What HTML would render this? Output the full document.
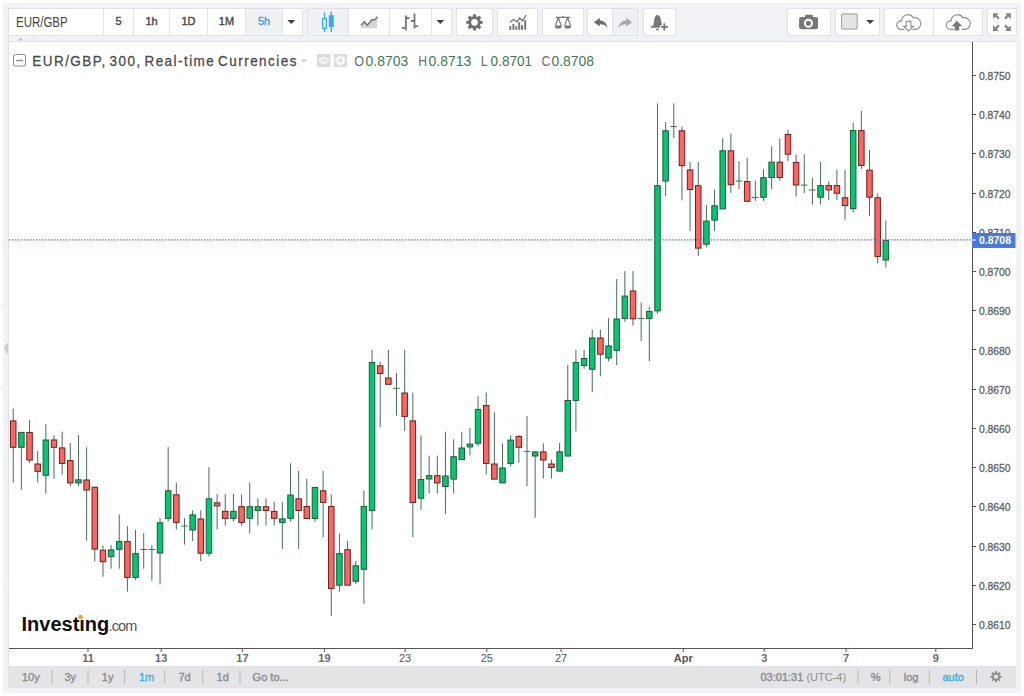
<!DOCTYPE html>
<html><head><meta charset="utf-8"><style>
*{margin:0;padding:0;box-sizing:border-box}
html,body{width:1024px;height:696px;overflow:hidden;background:#fff;font-family:"Liberation Sans",sans-serif}
#frame{position:absolute;left:3px;top:3px;width:1018px;height:690px;background:#f0f2f5}
.g{position:absolute;top:8px;height:28px;background:#fff;border:1px solid #e0e2e7}
.sep{position:absolute;top:9px;width:1px;height:26px;background:#e0e2e7}
.act{position:absolute;top:9px;height:26px;background:#f0f1f4}
.t{position:absolute;white-space:nowrap}
.iv{position:absolute;top:15px;font-size:11px;font-weight:normal;-webkit-text-stroke-width:0.4px;color:#4a4a4a;text-align:center;line-height:13px}
#chart{position:absolute;left:8px;top:41px;width:1008px;height:625px;background:#fff;border-left:1px solid #e0e2e7;border-top:1px solid #e0e2e7}
#strip{position:absolute;left:8px;top:36px;width:1008px;height:6px;background:#f0f2f5;border-bottom:1px solid #e0e2e7;border-left:1px solid #e0e2e7}
#tab{position:absolute;left:9px;top:35px;width:25px;height:1px;background:#e0e2e7}
#bot{position:absolute;left:8px;top:666px;width:1008px;height:21.5px;background:#e4e4e7}
.bt{position:absolute;top:671px;font-size:11px;font-weight:bold;color:#8c8c8c;line-height:13px}
.bs{position:absolute;top:670px;width:1px;height:14px;background:#b9bbc0}
</style></head><body>
<div id="frame"></div>

<!-- toolbar groups -->
<div class="g" style="left:8px;width:295px"></div>
<div class="act" style="left:246px;width:36px"></div>
<div class="sep" style="left:103px"></div>
<div class="sep" style="left:133px"></div>
<div class="sep" style="left:169px"></div>
<div class="sep" style="left:207px"></div>
<div class="sep" style="left:245px"></div>
<div class="sep" style="left:282px"></div>
<div class="t" style="left:15.5px;top:14px;font-size:14px;color:#454545;line-height:16px;transform:scaleX(0.82);transform-origin:0 0">EUR/GBP</div>
<div class="iv" style="left:104px;width:29px">5</div>
<div class="iv" style="left:134px;width:35px">1h</div>
<div class="iv" style="left:170px;width:37px">1D</div>
<div class="iv" style="left:208px;width:37px">1M</div>
<div class="iv" style="left:246px;width:36px;color:#3aa6dd">5h</div>

<div class="g" style="left:307px;width:145px"></div>
<div class="act" style="left:308px;width:40px"></div>
<div class="sep" style="left:348px"></div>
<div class="sep" style="left:389px"></div>
<div class="sep" style="left:431px"></div>

<div class="g" style="left:456px;width:37px"></div>
<div class="g" style="left:497px;width:41px"></div>
<div class="g" style="left:542px;width:42px"></div>
<div class="g" style="left:587px;width:51px"></div>
<div class="act" style="left:613px;width:24px"></div>
<div class="sep" style="left:612px"></div>
<div class="g" style="left:643px;width:33px"></div>

<div class="g" style="left:787px;width:44px"></div>
<div class="g" style="left:835px;width:45px"></div>
<div class="g" style="left:884px;width:99px"></div>
<div class="sep" style="left:933px"></div>
<div class="g" style="left:987px;width:30px"></div>

<div id="strip"></div><div id="tab"></div>
<div style="position:absolute;left:33px;top:36px;width:1px;height:5px;background:#e0e2e7"></div>
<div id="chart"></div>
<div id="bot"></div>

<svg width="1024" height="696" style="position:absolute;left:0;top:0" font-family="Liberation Sans, sans-serif">
<!-- toolbar icons -->
<g fill="#404040"><path d="M287.3 20h8l-4 4z"/><path d="M436.4 20.1h8l-4 4z"/><path d="M866.1 20.1h8l-4 4z"/></g>
<path d="M18 40.5l2.6-3 2.6 3z" fill="#c2c4c8"/>
<!-- candle icon -->
<g stroke="#3aaee0" fill="none" stroke-width="1.4">
<path d="M324.5 12.5V18.6M324.5 28.4V32"/><rect x="322.7" y="18.6" width="3.6" height="9.8"/>
<path d="M331.3 11.8V32"/>
</g>
<rect x="328.8" y="15.2" width="5" height="11.7" fill="#3aaee0"/>
<!-- area icon -->
<path d="M361 25.3L364.3 21.7L367.3 25.3L371.9 19.7L374.9 19.7L377.2 17.1V28.3H361Z" fill="#d6d6d6"/>
<path d="M361 25.3L364.3 21.7L367.3 25.3L371.9 19.7L374.9 19.7L377.5 16.8" stroke="#777" stroke-width="1.6" fill="none"/>
<!-- bars icon -->
<g stroke="#777" stroke-width="1.8" fill="none">
<path d="M405.9 15.4V30.5M401.8 27.8H405.9M405.9 18H409.4"/>
<path d="M414.5 13.4V28.5M411 21H414.5M414.5 26.1H418"/>
</g>
<!-- gear -->
<g transform="translate(474.5 22.4)" fill="#707070">
<path id="gearp" d="M-1.71 -5.96L-1.44 -8.17L1.44 -8.17L1.71 -5.96L3.01 -5.42L4.76 -6.80L6.80 -4.76L5.42 -3.01L5.96 -1.71L8.17 -1.44L8.17 1.44L5.96 1.71L5.42 3.01L6.80 4.76L4.76 6.80L3.01 5.42L1.71 5.96L1.44 8.17L-1.44 8.17L-1.71 5.96L-3.01 5.42L-4.76 6.80L-6.80 4.76L-5.42 3.01L-5.96 1.71L-8.17 1.44L-8.17 -1.44L-5.96 -1.71L-5.42 -3.01L-6.80 -4.76L-4.76 -6.80L-3.01 -5.42ZM0 -3.3A3.3 3.3 0 1 0 0 3.3A3.3 3.3 0 1 0 0 -3.3Z" fill-rule="evenodd"/>
</g>
<!-- indicators -->
<g fill="#777"><rect x="509.3" y="26" width="2" height="3.8"/><rect x="512.4" y="24" width="2" height="5.8"/><rect x="515.3" y="26.2" width="2" height="3.6"/><rect x="518.2" y="22.1" width="2" height="7.7"/><rect x="521" y="25.2" width="2" height="4.6"/><rect x="524.2" y="20.1" width="2" height="9.7"/></g>
<path d="M510 22L513.5 19.5L516.8 21.8L519.6 18L522.6 20.8L526 15" stroke="#777" stroke-width="1.4" fill="none"/>
<!-- scales -->
<g stroke="#777" stroke-width="1.2" fill="none">
<path d="M555.8 17.3H570.3M563 16V17.3"/>
<path d="M558.3 17.5L555.4 25.6M558.3 17.5L561.2 25.6M567.6 17.5L564.7 25.6M567.6 17.5L570.5 25.6"/>
</g>
<g fill="#777"><path d="M554.8 25.4h7a3.5 3.2 0 0 1-7 0z"/><path d="M564.2 25.4h7a3.5 3.2 0 0 1-7 0z"/></g>
<!-- undo redo -->
<path d="M594 22.2L599.8 17.8V20.4C604 20.4 606.6 23 607.6 28C605.6 25.2 603.4 24.2 599.8 24.2V26.5Z" fill="#6d6d6d"/>
<path d="M632 22.2L626.2 17.8V20.4C622 20.4 619.4 23 618.4 28C620.4 25.2 622.6 24.2 626.2 24.2V26.5Z" fill="#a8a8a8"/>
<!-- bell -->
<g fill="#777">
<path d="M657.5 15C655.8 15 654.6 17 654.1 20.2L653.4 25.8H651.1V27.8H659.9V25.9L661.9 24.4C661.4 22 660.9 19.6 660.6 18.5C660.1 16.4 659 15 657.5 15Z"/>
<path d="M655.7 28.7h3.6a1.8 1.8 0 0 1-3.6 0z"/>
<rect x="663.4" y="23.3" width="1.8" height="7.2"/><rect x="661" y="26" width="7" height="1.8"/>
</g>
<!-- camera -->
<g fill="#777">
<rect x="799.1" y="17" width="18.9" height="12.3" rx="2"/><rect x="805" y="14.8" width="7.8" height="3.5" rx="1.2"/>
</g>
<circle cx="808.4" cy="23.3" r="3.55" fill="none" stroke="#fff" stroke-width="2"/>
<!-- swatch -->
<rect x="841.6" y="13.9" width="15.6" height="15.2" rx="1" fill="#e4e4e4" stroke="#9a9a9a" stroke-width="1"/>
<!-- clouds -->
<g fill="none" stroke="#8f8f8f" stroke-width="1.15">
<path d="M904.3 29.3H900.3A4.2 4.2 0 0 1 901.6 21A6.3 6.3 0 0 1 913.3 17.8A5.6 5.6 0 0 1 916.4 29.3H912.6"/>
<path d="M906.2 21.4V26.4H903.6L908.5 31L913.4 26.4H910.9V21.4Z"/>
<path d="M953.8 29.3H949.8A4.2 4.2 0 0 1 951.1 21A6.3 6.3 0 0 1 962.8 17.8A5.6 5.6 0 0 1 965.9 29.3H962.1"/>
</g>
<path d="M956.9 20.8L951.6 26.2H954.6V30.6H959.2V26.2H962.2Z" fill="#7a7a7a"/>
<!-- fullscreen -->
<g fill="#858585">
<path d="M993 13.3H998.7L996.9 15.1L999.7 17.9L998.1 19.6L995.2 16.8L993 19Z"/>
<path d="M1010.8 13.3H1005.1L1006.9 15.1L1004.1 17.9L1005.7 19.6L1008.6 16.8L1010.8 19Z"/>
<path d="M993 30.9H998.7L996.9 29.1L999.7 26.3L998.1 24.6L995.2 27.4L993 25.2Z"/>
<path d="M1010.8 30.9H1005.1L1006.9 29.1L1004.1 26.3L1005.7 24.6L1008.6 27.4L1010.8 25.2Z"/>
</g>

<path d="M8 342Q5.5 345 4.2 348.5Q5.5 352 8 355Z" fill="#cdcdcf"/>
<path d="M0 305.5H3M0 388.5H3M0 582H3" stroke="#dcebf2" stroke-width="1"/>
<!-- legend -->
<rect x="13.5" y="54.5" width="12" height="11.5" rx="2" fill="none" stroke="#8a8a8a" stroke-width="1"/>
<path d="M16 60.5H23" stroke="#8a8a8a" stroke-width="1.3"/>
<text transform="translate(32.3 66.3) scale(0.9 1)" font-size="15" fill="#4a4a4a" stroke="#4a4a4a" stroke-width="0.3" letter-spacing="1.62" word-spacing="-2.6">EUR/GBP, 300, Real-time Currencies</text>
<path d="M300.7 59.6h6.6l-3.3 2.6z" fill="#c8c8c8"/>
<rect x="317" y="54" width="13.5" height="13" fill="#dcdcdc"/>
<rect x="333.8" y="54" width="13.2" height="13" fill="#dcdcdc"/>
<path d="M319.3 60.6Q323.7 54.6 328.2 60.6Q323.7 66.6 319.3 60.6Z" fill="none" stroke="#fff" stroke-width="1.4"/><circle cx="323.7" cy="60.6" r="1.2" fill="#fff"/>
<g transform="translate(340.4 60.5) scale(0.62)" fill="#fff"><use href="#gearp"/></g>
<g font-size="14.5" fill="#3f7a55">
<text x="354.3" y="66.3" fill="#6e6e6e" textLength="9.8" lengthAdjust="spacingAndGlyphs">O</text><text x="365.6" y="66.3" textLength="42.6" lengthAdjust="spacingAndGlyphs">0.8703</text>
<text x="418.2" y="66.3" fill="#6e6e6e" textLength="8.8" lengthAdjust="spacingAndGlyphs">H</text><text x="428.6" y="66.3" textLength="42.6" lengthAdjust="spacingAndGlyphs">0.8713</text>
<text x="480.8" y="66.3" fill="#6e6e6e" textLength="7" lengthAdjust="spacingAndGlyphs">L</text><text x="490.6" y="66.3" textLength="41.5" lengthAdjust="spacingAndGlyphs">0.8701</text>
<text x="541.5" y="66.3" fill="#6e6e6e" textLength="8.8" lengthAdjust="spacingAndGlyphs">C</text><text x="551.4" y="66.3" textLength="42.6" lengthAdjust="spacingAndGlyphs">0.8708</text>
</g>

<!-- axes -->
<path d="M9 648.5H972.5M972.5 42V649" stroke="#555" stroke-width="1" fill="none"/>
<g stroke="#555" stroke-width="1">
<path d="M972 75.5H976"/>
<path d="M972 114.5H976"/>
<path d="M972 153.5H976"/>
<path d="M972 193.5H976"/>
<path d="M972 232.5H976"/>
<path d="M972 271.5H976"/>
<path d="M972 310.5H976"/>
<path d="M972 349.5H976"/>
<path d="M972 389.5H976"/>
<path d="M972 428.5H976"/>
<path d="M972 467.5H976"/>
<path d="M972 506.5H976"/>
<path d="M972 546.5H976"/>
<path d="M972 585.5H976"/>
<path d="M972 624.5H976"/>
<path d="M88.0 648.5V652"/>
<path d="M161.2 648.5V652"/>
<path d="M242.4 648.5V652"/>
<path d="M324.4 648.5V652"/>
<path d="M405.1 648.5V652"/>
<path d="M486.8 648.5V652"/>
<path d="M561.0 648.5V652"/>
<path d="M683.3 648.5V652"/>
<path d="M764.2 648.5V652"/>
<path d="M846.1 648.5V652"/>
<path d="M935.8 648.5V652"/>
</g>
<g font-size="11" fill="#5e5e5e" stroke="#5e5e5e" stroke-width="0.3">
<text x="979" y="80.0" textLength="31.6" lengthAdjust="spacingAndGlyphs">0.8750</text>
<text x="979" y="119.2" textLength="31.6" lengthAdjust="spacingAndGlyphs">0.8740</text>
<text x="979" y="158.4" textLength="31.6" lengthAdjust="spacingAndGlyphs">0.8730</text>
<text x="979" y="197.6" textLength="31.6" lengthAdjust="spacingAndGlyphs">0.8720</text>
<text x="979" y="236.8" textLength="31.6" lengthAdjust="spacingAndGlyphs">0.8710</text>
<text x="979" y="276.1" textLength="31.6" lengthAdjust="spacingAndGlyphs">0.8700</text>
<text x="979" y="315.3" textLength="31.6" lengthAdjust="spacingAndGlyphs">0.8690</text>
<text x="979" y="354.5" textLength="31.6" lengthAdjust="spacingAndGlyphs">0.8680</text>
<text x="979" y="393.7" textLength="31.6" lengthAdjust="spacingAndGlyphs">0.8670</text>
<text x="979" y="432.9" textLength="31.6" lengthAdjust="spacingAndGlyphs">0.8660</text>
<text x="979" y="472.1" textLength="31.6" lengthAdjust="spacingAndGlyphs">0.8650</text>
<text x="979" y="511.3" textLength="31.6" lengthAdjust="spacingAndGlyphs">0.8640</text>
<text x="979" y="550.5" textLength="31.6" lengthAdjust="spacingAndGlyphs">0.8630</text>
<text x="979" y="589.7" textLength="31.6" lengthAdjust="spacingAndGlyphs">0.8620</text>
<text x="979" y="628.9" textLength="31.6" lengthAdjust="spacingAndGlyphs">0.8610</text>
</g>
<g font-size="11" fill="#555" text-anchor="middle">
<text x="88.0" y="662.3" font-weight="bold" fill="#686868">11</text>
<text x="161.2" y="662.3" font-weight="bold" fill="#686868">13</text>
<text x="242.4" y="662.3" font-weight="bold" fill="#686868">17</text>
<text x="324.4" y="662.3" font-weight="bold" fill="#686868">19</text>
<text x="405.1" y="662.3">23</text>
<text x="486.8" y="662.3">25</text>
<text x="561.0" y="662.3">27</text>
<text x="683.3" y="662.3" font-weight="bold">Apr</text>
<text x="764.2" y="662.3" font-weight="bold" fill="#686868">3</text>
<text x="846.1" y="662.3" font-weight="bold" fill="#686868">7</text>
<text x="935.8" y="662.3" font-weight="bold" fill="#686868">9</text>
</g>

<!-- candles -->
<g>
<path d="M13.23 408.6V482.6 M21.38 431.9V489.8 M29.54 420.1V462.9 M37.69 451.0V482.6 M45.85 424.1V493.7 M54.00 435.2V478.7 M62.16 431.6V474.7 M70.31 443.1V486.2 M78.47 435.2V486.2 M86.62 447.4V540.7 M94.78 486.7V561.4 M102.94 545.3V576.8 M111.09 545.3V568.7 M119.24 514.3V568.7 M127.40 526.2V591.7 M135.55 529.7V580.2 M143.71 533.1V568.7 M151.86 545.3V580.7 M160.02 518.2V584.4 M168.17 447.0V521.5 M176.33 482.7V529.5 M184.48 518.1V544.6 M192.64 510.4V541.0 M200.79 510.4V561.1 M208.95 467.2V556.7 M217.10 493.9V529.5 M225.26 493.9V525.5 M233.41 493.9V521.5 M241.57 494.3V525.6 M249.72 482.4V533.5 M257.88 498.3V525.6 M266.03 498.3V525.6 M274.19 501.9V525.6 M282.34 501.9V548.9 M290.50 463.4V521.5 M298.65 471.0V548.9 M306.81 478.9V518.6 M314.96 486.9V521.6 M323.12 471.0V537.0 M331.27 494.5V615.9 M339.43 533.6V591.7 M347.58 540.9V585.3 M355.74 561.1V584.1 M363.89 490.4V603.7 M372.05 349.8V529.4 M380.20 362.0V427.3 M388.36 349.8V384.4 M396.51 373.1V415.7 M404.67 349.8V431.0 M412.82 392.5V537.1 M420.98 435.5V510.0 M429.13 455.6V493.5 M437.29 455.6V493.5 M445.44 431.8V514.1 M453.60 439.4V493.4 M461.75 431.8V459.7 M469.91 427.9V455.5 M478.06 396.2V446.3 M486.22 392.5V474.6 M494.38 412.2V479.2 M502.53 443.4V483.0 M510.69 435.3V466.5 M518.84 435.3V462.9 M527.00 416.2V486.2 M535.15 451.4V517.8 M543.30 443.4V478.6 M551.46 459.5V478.6 M559.62 443.1V471.2 M567.77 364.9V456.1 M575.92 349.8V431.3 M584.08 350.0V368.8 M592.24 329.6V392.1 M600.39 329.6V376.3 M608.54 318.2V361.3 M616.70 279.0V365.0 M624.86 271.1V321.7 M633.01 271.1V325.7 M641.16 302.7V341.0 M649.32 306.7V361.3 M657.48 103.4V313.8 M665.63 122.2V196.2 M673.78 103.4V138.1 M681.94 126.6V200.4 M690.09 162.0V231.1 M698.25 162.0V256.0 M706.40 204.8V247.5 M714.56 189.6V231.1 M722.71 138.3V209.0 M730.87 133.6V192.8 M739.02 161.2V189.3 M747.18 157.8V201.4 M755.33 180.7V200.9 M763.49 169.3V200.9 M771.64 146.2V189.3 M779.80 138.3V180.7 M787.95 129.7V161.2 M796.11 154.3V196.6 M804.26 154.3V192.9 M812.42 177.8V204.6 M820.57 161.9V204.6 M828.73 181.2V200.2 M836.88 169.7V200.2 M845.04 169.7V219.8 M853.19 122.5V212.5 M861.35 111.0V168.9 M869.50 150.1V216.1 M877.66 193.4V263.3 M885.81 220.3V267.5" stroke="#456f58" stroke-width="1" fill="none"/>
<rect x="10.48" y="420.9" width="5.5" height="26.4" fill="#ff6560" stroke="#6e1e1e" stroke-width="1"/>
<rect x="18.63" y="432.4" width="5.5" height="14.9" fill="#00c873" stroke="#1d5a38" stroke-width="1"/>
<rect x="26.79" y="432.4" width="5.5" height="27.6" fill="#ff6560" stroke="#6e1e1e" stroke-width="1"/>
<rect x="34.94" y="464.0" width="5.5" height="7.3" fill="#ff6560" stroke="#6e1e1e" stroke-width="1"/>
<rect x="43.10" y="440.0" width="5.5" height="35.3" fill="#00c873" stroke="#1d5a38" stroke-width="1"/>
<rect x="51.25" y="440.0" width="5.5" height="7.3" fill="#ff6560" stroke="#6e1e1e" stroke-width="1"/>
<rect x="59.41" y="447.9" width="5.5" height="15.5" fill="#ff6560" stroke="#6e1e1e" stroke-width="1"/>
<rect x="67.56" y="460.6" width="5.5" height="22.3" fill="#ff6560" stroke="#6e1e1e" stroke-width="1"/>
<rect x="75.72" y="479.8" width="5.5" height="3.1" fill="#00c873" stroke="#1d5a38" stroke-width="1"/>
<rect x="83.88" y="480.0" width="5.5" height="10.0" fill="#ff6560" stroke="#6e1e1e" stroke-width="1"/>
<rect x="92.03" y="487.2" width="5.5" height="61.9" fill="#ff6560" stroke="#6e1e1e" stroke-width="1"/>
<rect x="100.19" y="550.2" width="5.5" height="11.5" fill="#ff6560" stroke="#6e1e1e" stroke-width="1"/>
<rect x="108.34" y="549.9" width="5.5" height="6.8" fill="#00c873" stroke="#1d5a38" stroke-width="1"/>
<rect x="116.49" y="541.6" width="5.5" height="7.7" fill="#00c873" stroke="#1d5a38" stroke-width="1"/>
<rect x="124.65" y="541.6" width="5.5" height="35.8" fill="#ff6560" stroke="#6e1e1e" stroke-width="1"/>
<rect x="132.80" y="553.6" width="5.5" height="23.8" fill="#00c873" stroke="#1d5a38" stroke-width="1"/>
<path d="M140.41 549.5H147.01" stroke="#456f58" stroke-width="1"/>
<path d="M148.56 549.5H155.16" stroke="#456f58" stroke-width="1"/>
<rect x="157.27" y="522.8" width="5.5" height="30.2" fill="#00c873" stroke="#1d5a38" stroke-width="1"/>
<rect x="165.42" y="490.8" width="5.5" height="27.6" fill="#00c873" stroke="#1d5a38" stroke-width="1"/>
<rect x="173.58" y="494.8" width="5.5" height="27.6" fill="#ff6560" stroke="#6e1e1e" stroke-width="1"/>
<path d="M181.18 526.1H187.78" stroke="#456f58" stroke-width="1"/>
<rect x="189.89" y="514.9" width="5.5" height="15.1" fill="#00c873" stroke="#1d5a38" stroke-width="1"/>
<rect x="198.04" y="519.0" width="5.5" height="34.2" fill="#ff6560" stroke="#6e1e1e" stroke-width="1"/>
<rect x="206.20" y="498.8" width="5.5" height="54.4" fill="#00c873" stroke="#1d5a38" stroke-width="1"/>
<rect x="214.35" y="502.9" width="5.5" height="3.0" fill="#ff6560" stroke="#6e1e1e" stroke-width="1"/>
<rect x="222.51" y="511.3" width="5.5" height="7.1" fill="#ff6560" stroke="#6e1e1e" stroke-width="1"/>
<rect x="230.66" y="511.3" width="5.5" height="7.1" fill="#00c873" stroke="#1d5a38" stroke-width="1"/>
<rect x="238.82" y="506.7" width="5.5" height="15.7" fill="#ff6560" stroke="#6e1e1e" stroke-width="1"/>
<rect x="246.97" y="506.7" width="5.5" height="11.6" fill="#00c873" stroke="#1d5a38" stroke-width="1"/>
<rect x="255.13" y="506.7" width="5.5" height="3.8" fill="#00c873" stroke="#1d5a38" stroke-width="1"/>
<rect x="263.28" y="506.7" width="5.5" height="3.8" fill="#ff6560" stroke="#6e1e1e" stroke-width="1"/>
<rect x="271.44" y="511.4" width="5.5" height="6.9" fill="#ff6560" stroke="#6e1e1e" stroke-width="1"/>
<rect x="279.59" y="518.9" width="5.5" height="3.5" fill="#00c873" stroke="#1d5a38" stroke-width="1"/>
<rect x="287.75" y="495.1" width="5.5" height="23.2" fill="#00c873" stroke="#1d5a38" stroke-width="1"/>
<rect x="295.90" y="498.8" width="5.5" height="11.7" fill="#ff6560" stroke="#6e1e1e" stroke-width="1"/>
<rect x="304.06" y="506.5" width="5.5" height="12.0" fill="#ff6560" stroke="#6e1e1e" stroke-width="1"/>
<rect x="312.21" y="487.4" width="5.5" height="31.1" fill="#00c873" stroke="#1d5a38" stroke-width="1"/>
<rect x="320.37" y="490.8" width="5.5" height="11.6" fill="#ff6560" stroke="#6e1e1e" stroke-width="1"/>
<rect x="328.52" y="506.5" width="5.5" height="82.1" fill="#ff6560" stroke="#6e1e1e" stroke-width="1"/>
<rect x="336.68" y="553.6" width="5.5" height="31.6" fill="#00c873" stroke="#1d5a38" stroke-width="1"/>
<rect x="344.83" y="549.7" width="5.5" height="35.5" fill="#ff6560" stroke="#6e1e1e" stroke-width="1"/>
<rect x="352.99" y="565.8" width="5.5" height="15.5" fill="#00c873" stroke="#1d5a38" stroke-width="1"/>
<rect x="361.14" y="506.4" width="5.5" height="62.9" fill="#00c873" stroke="#1d5a38" stroke-width="1"/>
<rect x="369.30" y="362.5" width="5.5" height="147.9" fill="#00c873" stroke="#1d5a38" stroke-width="1"/>
<rect x="377.45" y="365.8" width="5.5" height="7.7" fill="#ff6560" stroke="#6e1e1e" stroke-width="1"/>
<rect x="385.61" y="378.0" width="5.5" height="6.3" fill="#ff6560" stroke="#6e1e1e" stroke-width="1"/>
<path d="M393.21 388.3H399.81" stroke="#456f58" stroke-width="1"/>
<rect x="401.92" y="393.0" width="5.5" height="23.4" fill="#ff6560" stroke="#6e1e1e" stroke-width="1"/>
<rect x="410.07" y="420.9" width="5.5" height="81.5" fill="#ff6560" stroke="#6e1e1e" stroke-width="1"/>
<rect x="418.23" y="479.6" width="5.5" height="18.6" fill="#00c873" stroke="#1d5a38" stroke-width="1"/>
<rect x="426.38" y="475.7" width="5.5" height="3.3" fill="#00c873" stroke="#1d5a38" stroke-width="1"/>
<rect x="434.54" y="475.7" width="5.5" height="7.2" fill="#ff6560" stroke="#6e1e1e" stroke-width="1"/>
<rect x="442.69" y="476.0" width="5.5" height="10.5" fill="#00c873" stroke="#1d5a38" stroke-width="1"/>
<rect x="450.85" y="456.7" width="5.5" height="22.4" fill="#00c873" stroke="#1d5a38" stroke-width="1"/>
<rect x="459.00" y="448.0" width="5.5" height="11.6" fill="#00c873" stroke="#1d5a38" stroke-width="1"/>
<rect x="467.16" y="444.1" width="5.5" height="2.8" fill="#00c873" stroke="#1d5a38" stroke-width="1"/>
<rect x="475.31" y="409.4" width="5.5" height="33.8" fill="#00c873" stroke="#1d5a38" stroke-width="1"/>
<rect x="483.47" y="405.6" width="5.5" height="57.8" fill="#ff6560" stroke="#6e1e1e" stroke-width="1"/>
<rect x="491.62" y="464.0" width="5.5" height="15.1" fill="#ff6560" stroke="#6e1e1e" stroke-width="1"/>
<rect x="499.78" y="468.0" width="5.5" height="14.9" fill="#00c873" stroke="#1d5a38" stroke-width="1"/>
<rect x="507.94" y="440.1" width="5.5" height="23.3" fill="#00c873" stroke="#1d5a38" stroke-width="1"/>
<rect x="516.09" y="436.4" width="5.5" height="10.9" fill="#ff6560" stroke="#6e1e1e" stroke-width="1"/>
<path d="M523.70 451.4H530.29" stroke="#456f58" stroke-width="1"/>
<rect x="532.40" y="451.9" width="5.5" height="4.1" fill="#00c873" stroke="#1d5a38" stroke-width="1"/>
<rect x="540.55" y="451.9" width="5.5" height="8.1" fill="#ff6560" stroke="#6e1e1e" stroke-width="1"/>
<rect x="548.71" y="464.0" width="5.5" height="3.4" fill="#ff6560" stroke="#6e1e1e" stroke-width="1"/>
<rect x="556.87" y="451.8" width="5.5" height="19.3" fill="#00c873" stroke="#1d5a38" stroke-width="1"/>
<rect x="565.02" y="400.5" width="5.5" height="55.5" fill="#00c873" stroke="#1d5a38" stroke-width="1"/>
<rect x="573.17" y="362.4" width="5.5" height="38.0" fill="#00c873" stroke="#1d5a38" stroke-width="1"/>
<rect x="581.33" y="358.5" width="5.5" height="7.0" fill="#00c873" stroke="#1d5a38" stroke-width="1"/>
<rect x="589.49" y="338.0" width="5.5" height="31.3" fill="#00c873" stroke="#1d5a38" stroke-width="1"/>
<rect x="597.64" y="338.0" width="5.5" height="16.2" fill="#ff6560" stroke="#6e1e1e" stroke-width="1"/>
<rect x="605.79" y="345.9" width="5.5" height="12.1" fill="#00c873" stroke="#1d5a38" stroke-width="1"/>
<rect x="613.95" y="319.0" width="5.5" height="31.4" fill="#00c873" stroke="#1d5a38" stroke-width="1"/>
<rect x="622.11" y="296.1" width="5.5" height="22.3" fill="#00c873" stroke="#1d5a38" stroke-width="1"/>
<rect x="630.26" y="291.0" width="5.5" height="27.8" fill="#ff6560" stroke="#6e1e1e" stroke-width="1"/>
<path d="M637.87 318.5H644.46" stroke="#456f58" stroke-width="1"/>
<rect x="646.57" y="311.5" width="5.5" height="6.9" fill="#00c873" stroke="#1d5a38" stroke-width="1"/>
<rect x="654.73" y="185.7" width="5.5" height="125.2" fill="#00c873" stroke="#1d5a38" stroke-width="1"/>
<rect x="662.88" y="130.8" width="5.5" height="50.2" fill="#00c873" stroke="#1d5a38" stroke-width="1"/>
<path d="M670.49 126.6H677.08" stroke="#456f58" stroke-width="1"/>
<rect x="679.19" y="130.8" width="5.5" height="34.8" fill="#ff6560" stroke="#6e1e1e" stroke-width="1"/>
<rect x="687.34" y="169.9" width="5.5" height="19.6" fill="#ff6560" stroke="#6e1e1e" stroke-width="1"/>
<rect x="695.50" y="185.7" width="5.5" height="62.4" fill="#ff6560" stroke="#6e1e1e" stroke-width="1"/>
<rect x="703.65" y="221.1" width="5.5" height="23.1" fill="#00c873" stroke="#1d5a38" stroke-width="1"/>
<rect x="711.81" y="205.8" width="5.5" height="14.3" fill="#00c873" stroke="#1d5a38" stroke-width="1"/>
<rect x="719.96" y="150.8" width="5.5" height="58.1" fill="#00c873" stroke="#1d5a38" stroke-width="1"/>
<rect x="728.12" y="150.8" width="5.5" height="33.9" fill="#ff6560" stroke="#6e1e1e" stroke-width="1"/>
<path d="M735.73 181.0H742.32" stroke="#456f58" stroke-width="1"/>
<rect x="744.43" y="181.5" width="5.5" height="19.8" fill="#ff6560" stroke="#6e1e1e" stroke-width="1"/>
<path d="M752.03 197.4H758.63" stroke="#456f58" stroke-width="1"/>
<rect x="760.74" y="177.7" width="5.5" height="19.6" fill="#00c873" stroke="#1d5a38" stroke-width="1"/>
<rect x="768.89" y="162.2" width="5.5" height="15.3" fill="#00c873" stroke="#1d5a38" stroke-width="1"/>
<rect x="777.05" y="162.2" width="5.5" height="15.3" fill="#ff6560" stroke="#6e1e1e" stroke-width="1"/>
<rect x="785.20" y="134.5" width="5.5" height="19.7" fill="#ff6560" stroke="#6e1e1e" stroke-width="1"/>
<rect x="793.36" y="162.4" width="5.5" height="22.6" fill="#ff6560" stroke="#6e1e1e" stroke-width="1"/>
<path d="M800.97 185.1H807.56" stroke="#456f58" stroke-width="1"/>
<path d="M809.12 190.0H815.72" stroke="#456f58" stroke-width="1"/>
<rect x="817.82" y="185.6" width="5.5" height="11.6" fill="#00c873" stroke="#1d5a38" stroke-width="1"/>
<rect x="825.98" y="185.6" width="5.5" height="4.3" fill="#ff6560" stroke="#6e1e1e" stroke-width="1"/>
<rect x="834.13" y="185.6" width="5.5" height="7.7" fill="#ff6560" stroke="#6e1e1e" stroke-width="1"/>
<rect x="842.29" y="197.8" width="5.5" height="7.7" fill="#ff6560" stroke="#6e1e1e" stroke-width="1"/>
<rect x="850.44" y="130.6" width="5.5" height="78.1" fill="#00c873" stroke="#1d5a38" stroke-width="1"/>
<rect x="858.60" y="130.6" width="5.5" height="34.8" fill="#ff6560" stroke="#6e1e1e" stroke-width="1"/>
<rect x="866.75" y="170.2" width="5.5" height="27.0" fill="#ff6560" stroke="#6e1e1e" stroke-width="1"/>
<rect x="874.91" y="197.8" width="5.5" height="58.6" fill="#ff6560" stroke="#6e1e1e" stroke-width="1"/>
<rect x="883.06" y="240.4" width="5.5" height="19.6" fill="#00c873" stroke="#1d5a38" stroke-width="1"/>
</g>

<!-- price line -->
<path d="M9 239.8H972" stroke="#5a80e2" stroke-width="1.2" stroke-dasharray="1.6 1.4"/>
<rect x="972" y="233" width="43.5" height="15" fill="#4a78e1"/>
<path d="M972 240H976" stroke="#fff" stroke-width="1"/>
<text x="979" y="244.3" font-size="11" font-weight="bold" fill="#fff" textLength="32" lengthAdjust="spacingAndGlyphs">0.8708</text>

<!-- logo -->
<text x="21.5" y="631.3" font-size="20" font-weight="bold" fill="#111" letter-spacing="0">Invest&#305;ng<tspan font-weight="normal" font-size="14.5" fill="#555" letter-spacing="-0.85" dx="-0.8">.com</tspan></text>
<circle cx="80.6" cy="616.9" r="2.2" fill="#f7a21b"/>

<!-- bottom toolbar -->
<g font-size="11" fill="#8e8e8e" stroke="#8e8e8e" stroke-width="0.4">
<text x="22" y="681">10y</text>
<text x="64.5" y="681">3y</text>
<text x="101.8" y="681">1y</text>
<text x="139" y="681" fill="#3cb0e6" stroke="#3cb0e6">1m</text>
<text x="178.5" y="681">7d</text>
<text x="216.6" y="681">1d</text>
<text x="252.6" y="681">Go to...</text>
<text x="760.5" y="681">03:01:31 <tspan stroke-width="0">(UTC-4)</tspan></text>
<text x="870.7" y="681">%</text>
<text x="903.7" y="681">log</text>
<text x="942.5" y="681" fill="#3cb0e6" stroke="#3cb0e6">auto</text>
</g>
<g stroke="#b6b8bd" stroke-width="1">
<path d="M52 670V684M88 670V684M124.6 670V684M164.8 670V684M202.8 670V684M240 670V684M858 670V684M889.7 670V684M929.3 670V684M976.5 670V684"/>
</g>
<path transform="translate(996 676.7)" fill="#8c8c8c" fill-rule="evenodd" d="M-1.01 -3.77L-0.89 -5.63L0.89 -5.63L1.01 -3.77L1.95 -3.38L3.35 -4.61L4.61 -3.35L3.38 -1.95L3.77 -1.01L5.63 -0.89L5.63 0.89L3.77 1.01L3.38 1.95L4.61 3.35L3.35 4.61L1.95 3.38L1.01 3.77L0.89 5.63L-0.89 5.63L-1.01 3.77L-1.95 3.38L-3.35 4.61L-4.61 3.35L-3.38 1.95L-3.77 1.01L-5.63 0.89L-5.63 -0.89L-3.77 -1.01L-3.38 -1.95L-4.61 -3.35L-3.35 -4.61L-1.95 -3.38ZM0 -2.1A2.1 2.1 0 1 0 0 2.1A2.1 2.1 0 1 0 0 -2.1Z"/>
</svg>
</body></html>
